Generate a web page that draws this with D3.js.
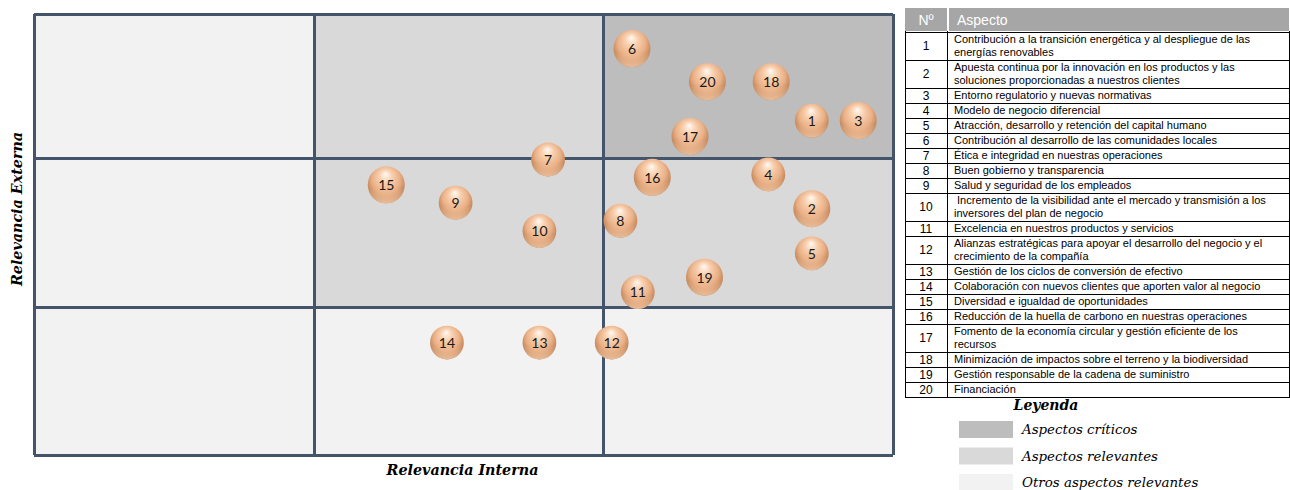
<!DOCTYPE html>
<html>
<head>
<meta charset="utf-8">
<script src="https://cdn.jsdelivr.net/npm/d3@7"></script>
<style>
body { margin: 0; background: #fff; }
</style>
</head>
<body>
<div id="chart"></div>
<script>
// aspectos materiales: numero, relevancia interna (x), relevancia externa (y), tamano de burbuja
var ids      = [1, 2, 3, 4, 5, 6, 7, 8, 9, 10, 11, 12, 13, 14, 15, 16, 17, 18, 19, 20];
var interna  = [2.72, 2.72, 2.88, 2.57, 2.72, 2.10, 1.81, 2.06, 1.49, 1.78, 2.12, 2.03, 1.78, 1.46, 1.25, 2.17, 2.30, 2.58, 2.35, 2.36];
var externa  = [2.26, 1.66, 2.26, 1.89, 1.36, 2.76, 1.99, 1.58, 1.70, 1.51, 1.10, 0.76, 0.76, 0.76, 1.82, 1.87, 2.15, 2.53, 1.20, 2.53];
var tamano   = [1.0, 1.2, 1.2, 1.0, 1.0, 1.2, 1.0, 1.0, 1.0, 1.0, 1.0, 1.0, 1.0, 1.0, 1.2, 1.2, 1.2, 1.2, 1.2, 1.2];

var aspectos = [
    "Contribución a la transición energética y al despliegue de las\nenergías renovables",
    "Apuesta continua por la innovación en los productos y las\nsoluciones proporcionadas a nuestros clientes",
    "Entorno regulatorio y nuevas normativas",
    "Modelo de negocio diferencial",
    "Atracción, desarrollo y retención del capital humano",
    "Contribución al desarrollo de las comunidades locales",
    "Ética e integridad en nuestras operaciones",
    "Buen gobierno y transparencia",
    "Salud y seguridad de los empleados",
    " Incremento de la visibilidad ante el mercado y transmisión a los\ninversores del plan de negocio",
    "Excelencia en nuestros productos y servicios",
    "Alianzas estratégicas para apoyar el desarrollo del negocio y el\ncrecimiento de la compañía",
    "Gestión de los ciclos de conversión de efectivo",
    "Colaboración con nuevos clientes que aporten valor al negocio",
    "Diversidad e igualdad de oportunidades",
    "Reducción de la huella de carbono en nuestras operaciones",
    "Fomento de la economía circular y gestión eficiente de los\nrecursos",
    "Minimización de impactos sobre el terreno y la biodiversidad",
    "Gestión responsable de la cadena de suministro",
    "Financiación"
];

// zonas de la matriz, fila 0 = abajo, columna 0 = izquierda
var zonas = [
    ["otros", "otros", "otros"],
    ["otros", "relevante", "relevante"],
    ["otros", "relevante", "critico"]
];
var zonaKeys    = ["critico", "relevante", "otros"];
var zonaLabels  = ["Aspectos críticos", "Aspectos relevantes", "Otros aspectos relevantes"];
var gridTicks   = [0, 1, 2, 3];
var tableHeader = ["Nº", "Aspecto"];

var zonaColor = d3.scaleOrdinal().domain(zonaKeys).range(["#bdbdbd", "#d9d9d9", "#f2f2f2"]);

var svg = d3.select("#chart").append("svg")
    .attr("width", 1290)
    .attr("height", 490);

// scales (cells are not exactly equal in the original)
var x = d3.scaleLinear().domain(gridTicks).range([34, 314, 603, 893]);
var y = d3.scaleLinear().domain(gridTicks).range([455, 307, 158, 14]);

// cells
var cells = [];
zonas.forEach(function (row, r) {
    row.forEach(function (z, c) { cells.push({r: r, c: c, z: z}); });
});
svg.append("g").selectAll("rect")
    .data(cells)
    .enter().append("rect")
    .attr("x", function (d) { return x(d.c); })
    .attr("y", function (d) { return y(d.r + 1); })
    .attr("width", function (d) { return x(d.c + 1) - x(d.c); })
    .attr("height", function (d) { return y(d.r) - y(d.r + 1); })
    .attr("fill", function (d) { return zonaColor(d.z); });

// grid lines
var gridColor = "#44546a";
var gx = svg.append("g")
    .attr("transform", "translate(0," + y(0) + ")")
    .call(d3.axisBottom(x).tickValues(gridTicks).tickSize(-(y(0) - y(3))).tickFormat(""));
var gy = svg.append("g")
    .attr("transform", "translate(" + x(0) + ",0)")
    .call(d3.axisLeft(y).tickValues(gridTicks).tickSize(-(x(3) - x(0))).tickFormat(""));
[gx, gy].forEach(function (g) {
    g.select(".domain").remove();
    g.selectAll("line").attr("stroke", gridColor).attr("stroke-width", 3);
});

// axis titles
var titleFont = "'DejaVu Serif', serif";
svg.append("text")
    .attr("x", (x(0) + x(3)) / 2 - 1)
    .attr("y", 475)
    .attr("text-anchor", "middle")
    .style("font-family", titleFont)
    .style("font-weight", "bold")
    .style("font-style", "italic")
    .style("font-size", "14.3px")
    .text("Relevancia Interna");
svg.append("text")
    .attr("transform", "translate(22," + 209 + ") rotate(-90)")
    .attr("text-anchor", "middle")
    .style("font-family", titleFont)
    .style("font-weight", "bold")
    .style("font-style", "italic")
    .style("font-size", "14.3px")
    .text("Relevancia Externa");

// bubble gradients
var defs = svg.append("defs");
var grad = defs.append("radialGradient")
    .attr("id", "bola")
    .attr("cx", "50%").attr("cy", "42%").attr("r", "58%")
    .attr("fx", "48%").attr("fy", "20%");
grad.append("stop").attr("offset", "0%").attr("stop-color", "#fff9f2");
grad.append("stop").attr("offset", "30%").attr("stop-color", "#f8d0b0");
grad.append("stop").attr("offset", "65%").attr("stop-color", "#eab086");
grad.append("stop").attr("offset", "88%").attr("stop-color", "#c98b60");
grad.append("stop").attr("offset", "100%").attr("stop-color", "#a9764f");
var refl = defs.append("linearGradient")
    .attr("id", "reflejo")
    .attr("x1", 0).attr("y1", 0).attr("x2", 0).attr("y2", 1);
refl.append("stop").attr("offset", "60%").attr("stop-color", "#f6c9a4").attr("stop-opacity", 0);
refl.append("stop").attr("offset", "100%").attr("stop-color", "#f6c9a4").attr("stop-opacity", 0.85);

var rScale = d3.scaleSqrt().domain([0, d3.max(tamano)]).range([0, 18.5]);

var puntos = ids.map(function (id, i) {
    return {id: id, x: interna[i], y: externa[i], s: tamano[i]};
});

var bubbles = svg.append("g").selectAll("g")
    .data(puntos)
    .enter().append("g")
    .attr("transform", function (d) { return "translate(" + x(d.x) + "," + y(d.y) + ")"; });
bubbles.append("circle")
    .attr("r", function (d) { return rScale(d.s); })
    .attr("fill", "url(#bola)");
bubbles.append("circle")
    .attr("r", function (d) { return rScale(d.s); })
    .attr("fill", "url(#reflejo)");
bubbles.append("text")
    .attr("text-anchor", "middle")
    .attr("dy", "0.38em")
    .style("font-family", "Lato, sans-serif")
    .style("font-size", "14px")
    .attr("fill", "#1a1a1a")
    .text(function (d) { return d.id; });

// table
var tx0 = 905, tx1 = 947, tx2 = 1289;
var headTop = 8, headBot = 31;
var lineH = 13;
svg.append("rect").attr("x", tx0).attr("y", headTop).attr("width", tx1 - tx0).attr("height", headBot - headTop).attr("fill", "#a6a6a6");
svg.append("rect").attr("x", tx1 + 2).attr("y", headTop).attr("width", tx2 - tx1 - 2).attr("height", headBot - headTop).attr("fill", "#a6a6a6");
svg.append("text").attr("x", (tx0 + tx1) / 2).attr("y", 25).attr("text-anchor", "middle")
    .style("font-family", "'Liberation Sans', Arial, sans-serif").style("font-size", "14px").attr("fill", "#fff")
    .text(tableHeader[0]);
svg.append("text").attr("x", tx1 + 10).attr("y", 25)
    .style("font-family", "'Liberation Sans', Arial, sans-serif").style("font-size", "14px").attr("fill", "#fff")
    .text(tableHeader[1]);

var rows = [];
var yy = 32;
aspectos.forEach(function (t, i) {
    var lines = t.split("\n");
    var h = 15 + lineH * (lines.length - 1);
    rows.push({id: ids[i], lines: lines, y0: yy, h: h});
    yy += h;
});

var tbl = svg.append("g");
var rowG = tbl.selectAll("g").data(rows).enter().append("g");
rowG.append("line")
    .attr("x1", tx0).attr("x2", tx2)
    .attr("y1", function (d) { return d.y0 + 0.5; })
    .attr("y2", function (d) { return d.y0 + 0.5; })
    .attr("stroke", "#000").attr("stroke-width", 1);
rowG.append("text")
    .attr("x", (tx0 + tx1) / 2)
    .attr("y", function (d) { return d.y0 + d.h / 2; })
    .attr("dy", "0.36em")
    .attr("text-anchor", "middle")
    .style("font-family", "'Liberation Sans', Arial, sans-serif")
    .style("font-size", "12px")
    .text(function (d) { return d.id; });
rowG.each(function (d) {
    var t = d3.select(this).append("text")
        .style("font-family", "'Liberation Sans', Arial, sans-serif")
        .style("font-size", "11px");
    d.lines.forEach(function (ln, k) {
        t.append("tspan")
            .attr("x", tx1 + 7)
            .attr("y", d.y0 + 11 + k * lineH)
            .attr("xml:space", "preserve")
            .text(ln);
    });
});
var tBottom = yy;
tbl.append("line").attr("x1", tx0).attr("x2", tx2).attr("y1", tBottom + 0.5).attr("y2", tBottom + 0.5).attr("stroke", "#000");
[tx0, tx1, tx2].forEach(function (vx) {
    tbl.append("line").attr("x1", vx + 0.5).attr("x2", vx + 0.5).attr("y1", 31).attr("y2", tBottom + 1).attr("stroke", "#000");
});

// legend
svg.append("text")
    .attr("x", 1046).attr("y", 410)
    .attr("text-anchor", "middle")
    .style("font-family", titleFont)
    .style("font-weight", "bold")
    .style("font-style", "italic")
    .style("font-size", "14px")
    .text("Leyenda");
var leg = svg.append("g").selectAll("g")
    .data(zonaKeys)
    .enter().append("g")
    .attr("transform", function (d, i) { return "translate(959," + (421 + i * 26.5) + ")"; });
leg.append("rect").attr("width", 54).attr("height", 17).attr("fill", function (d) { return zonaColor(d); });
leg.append("text")
    .attr("x", 63).attr("y", 13)
    .style("font-family", titleFont)
    .style("font-style", "italic")
    .style("font-size", "13.4px")
    .text(function (d, i) { return zonaLabels[i]; });
</script>
</body>
</html>
